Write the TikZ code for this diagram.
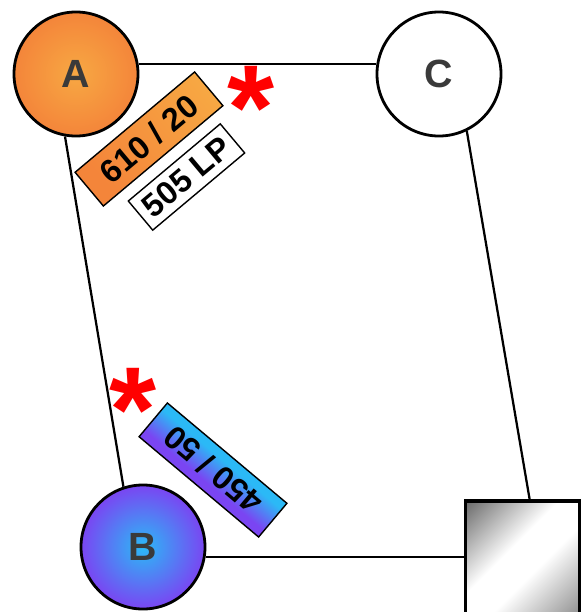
\documentclass[tikz,border=0pt]{standalone}
\usepackage{fontspec}
\setmainfont{Liberation Sans}
\usetikzlibrary{calc}

\definecolor{orangeedge}{HTML}{F4853A}
\definecolor{orangemid}{HTML}{F7A843}
\definecolor{bluemid}{HTML}{2BB9F6}
\definecolor{blueedge}{HTML}{7A45F2}
\definecolor{lettergray}{HTML}{3A3A3A}

% shadings
\pgfdeclareverticalshading{squareshade}{100bp}{color(0bp)=(black!45); color(15bp)=(black!45); color(43bp)=(white); color(57bp)=(white); color(85bp)=(black!58); color(100bp)=(black!58)}
\pgfdeclarehorizontalshading{caporange}{1.1cm}{color(0cm)=(orangeedge); color(0.4cm)=(orangeedge); color(3.9cm)=(orangemid)}
\pgfdeclareverticalshading{capblue}{3.9cm}{color(0cm)=(bluemid); color(0.2cm)=(bluemid); color(0.9cm)=(blueedge); color(1.1cm)=(blueedge)}

\tikzset{capshade/.style={inner sep=0pt,outer sep=0pt}}

\begin{document}
\begin{tikzpicture}[x=0.025cm,y=-0.025cm]
    \useasboundingbox (0,0) rectangle (585,612);

        \begin{scope}[every node/.style={circle,draw,line width=2pt,minimum size=3.1cm,inner sep=0pt,text=lettergray,font=\fontsize{28}{28}\selectfont\bfseries}]
            \node[inner color=orangemid,outer color=orangeedge] (A) at (76,74) {A};
            \node[fill=white] (C) at (439,74) {C};
            \node[inner color=bluemid,outer color=blueedge] (B) at (143,547) {B};
        \end{scope}

        \node[draw,line width=2.8pt,minimum width=2.85cm,minimum height=2.95cm,shading=squareshade,shading angle=45] (S) at (522.5,560) {};

        \begin{scope}[line width=1.6pt]
            \draw (A.9) -- (C.171);
            \draw (A.260) -- (B.108);
            \draw (B.351) -- (B.351 -| S.west);
            \draw (C.296) -- ($(S.north west)!0.56!(S.north east)$);
        \end{scope}

        % gradient backgrounds of the tags
        \node[capshade,rotate=40] (cap1bg) at (149,139) {\pgfuseshading{caporange}};
        \node[capshade,rotate=140] (cap3bg) at (213,470) {\pgfuseshading{capblue}};

        \begin{scope}[every node/.style={draw,line width=1pt,inner sep=0pt,font=\fontsize{23}{23}\selectfont\bfseries}]
            \node[rotate=40,minimum width=3.9cm,minimum height=1.1cm] (cap1) at (cap1bg) {610 / 20};
            \node[rotate=40,minimum width=3.0cm,minimum height=0.95cm,fill=white] (cap2) at (186.5,177) {505 LP};
            \node[rotate=140,minimum width=3.9cm,minimum height=1.1cm] (cap3) at (cap3bg) {450 / 50};
        \end{scope}

        \begin{scope}[every node/.style={text=red,inner sep=0pt,font=\fontsize{86}{86}\selectfont\bfseries}]
            \node (star1) at (251,108) {*};
            \node (star2) at (133,410) {*};
        \end{scope}

\end{tikzpicture}
\end{document}
